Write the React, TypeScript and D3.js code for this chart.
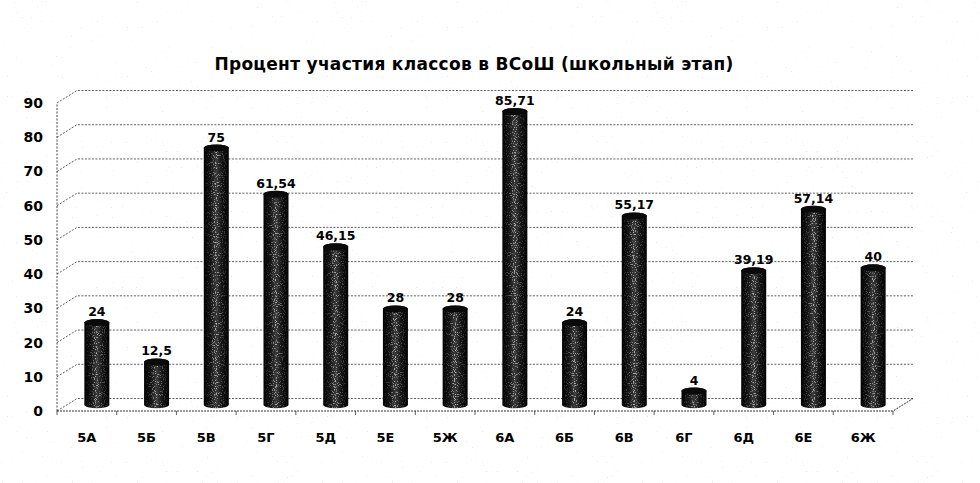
import React from "react";
import * as d3 from "d3";

const categories = ["5А", "5Б", "5В", "5Г", "5Д", "5Е", "5Ж", "6А", "6Б", "6В", "6Г", "6Д", "6Е", "6Ж"];
const values = [24, 12.5, 75, 61.54, 46.15, 28, 28, 85.71, 24, 55.17, 4, 39.19, 57.14, 40];
const valueLabels = ["24", "12,5", "75", "61,54", "46,15", "28", "28", "85,71", "24", "55,17", "4", "39,19", "57,14", "40"];
const yTicks = [0, 10, 20, 30, 40, 50, 60, 70, 80, 90];
const title = "Процент участия классов в ВСоШ (школьный этап)";

const W = 980;
const H = 483;
const DX = 20;
const DY = -12.5;
const FONT = "'DejaVu Sans', 'Liberation Sans', sans-serif";

export default function App() {
  const x = d3.scaleBand<string>().domain(categories).range([57, 893]).paddingInner(0).paddingOuter(0);
  const y = d3.scaleLinear().domain([0, 90]).range([411, 103]);
  const bw = 25;
  const ry = 3.5;
  const grid = "#333";

  return (
    <svg width={W} height={H} style={{ position: "absolute", left: 0, top: 0, background: "#fff" }}>
      <defs>
        <linearGradient id="barG" x1="0" x2="1" y1="0" y2="0">
          <stop offset="0" stopColor="#000" />
          <stop offset="0.28" stopColor="#151515" />
          <stop offset="0.5" stopColor="#3a3a3a" />
          <stop offset="0.72" stopColor="#151515" />
          <stop offset="1" stopColor="#000" />
        </linearGradient>
        <linearGradient id="speckMask" x1="0" x2="1" y1="0" y2="0">
          <stop offset="0" stopColor="#fff" stopOpacity="0" />
          <stop offset="0.3" stopColor="#fff" stopOpacity="0.5" />
          <stop offset="0.5" stopColor="#fff" stopOpacity="1" />
          <stop offset="0.7" stopColor="#fff" stopOpacity="0.5" />
          <stop offset="1" stopColor="#fff" stopOpacity="0" />
        </linearGradient>
        <filter id="speck" x="0" y="0" width="100%" height="100%">
          <feTurbulence type="fractalNoise" baseFrequency="0.9" numOctaves="1" seed="3" result="n" />
          <feColorMatrix type="matrix" values="0 0 0 0 1  0 0 0 0 1  0 0 0 0 1  0 0 0 9 -5.0" in="n" result="dots" />
          <feComposite in="dots" in2="SourceGraphic" operator="in" />
        </filter>
        <filter id="bgnoise" x="0" y="0" width="100%" height="100%">
          <feTurbulence type="fractalNoise" baseFrequency="0.8" numOctaves="1" seed="7" result="n" />
          <feColorMatrix type="matrix" values="0 0 0 0 0.5  0 0 0 0 0.5  0 0 0 0 0.5  0 0 0 14 -10.2" in="n" />
        </filter>
      </defs>
      <rect x={0} y={0} width={W} height={H} fill="#fff" />
      <rect x={0} y={0} width={W} height={H} filter="url(#bgnoise)" opacity={0.35} />

      <text x={474} y={70} textAnchor="middle" fontFamily={FONT} fontWeight="bold" fontSize={17} letterSpacing={0.3} fill="#000">
        {title}
      </text>

      {/* gridlines */}
      {yTicks.map((t) => (
        <g key={t}>
          <polyline
            points={`${57},${y(t)} ${57 + DX},${y(t) + DY} ${913},${y(t) + DY}`}
            fill="none"
            stroke={grid}
            strokeWidth={0.8}
            strokeDasharray="2,1.5"
          />
          <text x={43} y={y(t)} textAnchor="end" dominantBaseline="central" fontFamily={FONT} fontWeight="bold" fontSize={14} fill="#000">
            {t}
          </text>
        </g>
      ))}
      {/* left axis */}
      <line x1={57} x2={57} y1={y(0)} y2={y(90)} stroke={grid} strokeWidth={0.9} strokeDasharray="2,1.5" />
      {/* floor front edge */}
      <polyline
        points={`${57},${y(0)} ${893},${y(0)} ${913},${y(0) + DY}`}
        fill="none"
        stroke={grid}
        strokeWidth={1}
        strokeDasharray="2,1"
      />
      {categories.map((c, i) => (
        <line key={"tk" + i} x1={x(c)!} x2={x(c)!} y1={y(0)} y2={y(0) + 4} stroke={grid} strokeWidth={0.8} />
      ))}
      <line x1={893} x2={893} y1={y(0)} y2={y(0) + 4} stroke={grid} strokeWidth={0.8} />

      {/* bars */}
      {categories.map((c, i) => {
        const cx = x(c)! + x.bandwidth() / 2 + DX / 2;
        const yb = y(0) + DY / 2;
        const yt = y(values[i]) + DY / 2;
        const l = cx - bw / 2;
        const r = cx + bw / 2;
        const d = `M${l},${yt} L${l},${yb} A${bw / 2},${ry} 0 0 0 ${r},${yb} L${r},${yt} A${bw / 2},${ry} 0 0 0 ${l},${yt} Z`;
        return (
          <g key={c}>
            <path d={d} fill="url(#barG)" />
            <path d={d} fill="url(#speckMask)" filter="url(#speck)" opacity={0.6} />
            <ellipse cx={cx} cy={yt} rx={bw / 2} ry={ry} fill="#0a0a0a" />
            <text x={cx} y={yt - ry - 3} textAnchor="middle" fontFamily={FONT} fontWeight="bold" fontSize={12.5} fill="#000">
              {valueLabels[i]}
            </text>
            <text x={x(c)! + x.bandwidth() / 2} y={442} textAnchor="middle" fontFamily={FONT} fontWeight="bold" fontSize={13} fill="#000">
              {c}
            </text>
          </g>
        );
      })}
    </svg>
  );
}
